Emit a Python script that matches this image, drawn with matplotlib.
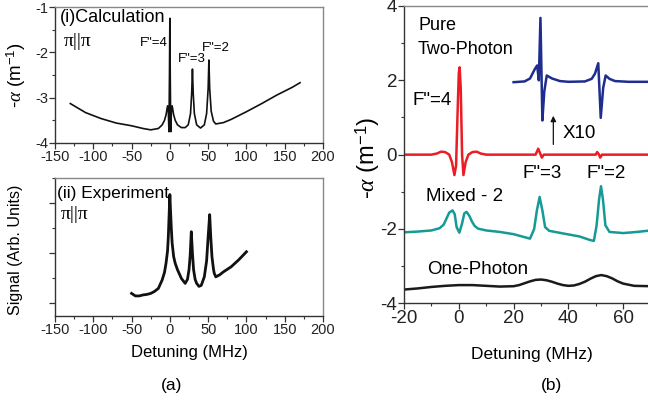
import matplotlib
matplotlib.use('Agg')
import matplotlib.pyplot as plt
from matplotlib.ticker import MultipleLocator

plt.rcParams['font.family'] = ['Liberation Sans', 'DejaVu Sans']
plt.rcParams['axes.unicode_minus'] = False
plt.rcParams['mathtext.fontset'] = 'custom'
plt.rcParams['mathtext.rm'] = 'Liberation Sans'
plt.rcParams['mathtext.it'] = 'Liberation Serif:italic'

# ---------------- data ----------------
# (a)(i) calculation
calc_x = [-130, -110, -90, -70, -50, -35, -25, -15, -10, -7, -5, -3, -2, -1.2, -0.5, 0,
          0.5, 1.2, 2, 3, 5, 7, 10, 15, 20, 24, 27, 28.5, 29.5, 30.5, 32, 35, 40, 45, 48,
          50, 51, 52, 54, 57, 60, 70, 80, 100, 120, 140, 160, 170]
calc_y = [-3.13, -3.33, -3.46, -3.56, -3.62, -3.68, -3.71, -3.68, -3.60, -3.50, -3.38, -3.18, -3.30, -3.75, -2.50, -1.25,
          -2.50, -3.75, -3.30, -3.18, -3.38, -3.50, -3.60, -3.66, -3.66, -3.60, -3.35, -2.90, -2.37, -2.90, -3.35, -3.60, -3.67, -3.60, -3.35,
          -2.80, -2.17, -2.80, -3.30, -3.52, -3.58, -3.55, -3.48, -3.31, -3.13, -2.94, -2.77, -2.67]

# (a)(ii) experiment (arb. units)
exp_x = [-50, -45, -40, -35, -30, -25, -20, -15, -10, -7, -5, -3, -2, -1, 0, 1, 2, 3, 5, 7, 10, 13, 15, 18,
         20, 23, 25, 26.5, 28, 29.5, 31, 33, 35, 38, 41, 45, 48, 50, 52, 53.5, 55, 57, 58, 60,
         65, 70, 75, 80, 85, 90, 95, 100]
exp_y = [0.20, 0.15, 0.15, 0.17, 0.18, 0.20, 0.24, 0.30, 0.47, 0.62, 0.80, 1.05, 1.33, 1.75, 2.17, 1.80, 1.47, 1.20, 0.93, 0.80, 0.67, 0.57, 0.50, 0.44,
         0.40, 0.48, 0.67, 0.95, 1.43, 1.00, 0.67, 0.48, 0.40, 0.34, 0.36, 0.53, 0.85, 1.33, 1.77, 1.30, 0.93, 0.68, 0.60, 0.53,
         0.57, 0.63, 0.68, 0.73, 0.80, 0.87, 0.95, 1.03]

# (b) pure two-photon
pure_x = [-20, -12, -10, -8, -6.5, -5, -3.5, -2.5, -1.6, -1.0, -0.5, 0.0, 0.3, 0.7, 1.2, 1.7, 2.5, 3.5,
          5, 6.5, 8, 10, 20, 28, 29, 29.6, 30.3, 31, 40, 50, 50.5, 51.2, 51.6, 52.3, 60, 70]
pure_y = [0.0, 0.0, 0.0, 0.03, 0.08, 0.07, 0.0, -0.2, -0.55, -0.3, 1.0, 2.2, 2.35, 1.8, 0.0, -0.55, -0.2, 0.0,
          0.07, 0.08, 0.03, 0.0, 0.0, 0.0, 0.16, 0.05, -0.08, 0.0, 0.0, 0.0, 0.07, 0.0, -0.08, 0.0, 0.0, 0.0]

# (b) pure two-photon x10 (offset)
x10_x = [20, 24, 26, 27.8, 28.6, 29.2, 29.8, 30.5, 31.2, 32.1, 34, 36.9, 40, 46, 48.5, 49.7, 50.9,
         51.8, 52.7, 53.6, 55, 57, 62, 70]
x10_y = [1.95, 1.97, 2.05, 2.31, 2.40, 2.00, 3.68, 0.92, 1.70, 2.13, 2.05, 1.98, 1.96, 1.97, 2.04, 2.18, 2.46,
         0.99, 1.80, 2.13, 2.04, 1.98, 1.96, 1.96]

# (b) mixed - 2
mix_x = [-20, -15, -10, -7, -5.5, -4.5, -3.5, -2.3, -1.5, -0.8, 0.2, 1.2, 2.0, 2.8, 3.8, 4.8, 5.8, 7, 10, 15, 20, 24, 26,
         27.5, 28.5, 29.5, 30.5, 31.5, 33, 38, 44, 48, 49.3, 50.3, 51.2, 51.9, 52.6, 53.5, 55, 60, 65, 70]
mix_y = [-2.09, -2.07, -2.04, -1.98, -1.88, -1.72, -1.56, -1.50, -1.60, -1.95, -2.10, -1.85, -1.58, -1.54, -1.64, -1.80, -1.92, -1.99, -2.04, -2.08, -2.14, -2.22, -2.26,
         -2.00, -1.50, -1.14, -1.50, -1.95, -2.05, -2.12, -2.20, -2.30, -2.32, -1.90, -1.20, -0.85, -1.20, -1.90, -2.08, -2.11, -2.08, -2.04]

# (b) one-photon
one_x = [-20, -15, -10, -5, 0, 5, 10, 15, 20, 22, 24, 26, 28, 30, 32, 34, 36, 38, 40, 42, 44, 46, 48, 50, 52, 54, 56, 58, 60, 64, 70]
one_y = [-3.63, -3.60, -3.56, -3.53, -3.51, -3.51, -3.53, -3.55, -3.54, -3.51, -3.46, -3.41, -3.37, -3.36, -3.38, -3.42, -3.47, -3.51, -3.53, -3.52, -3.48, -3.42, -3.34, -3.27, -3.24, -3.27, -3.33, -3.41, -3.47, -3.53, -3.54]

xticks_a = [-150, -100, -50, 0, 50, 100, 150, 200]
yticks_a1 = [-4, -3, -2, -1]
xticks_b = [-20, 0, 20, 40, 60]
yticks_b = [-4, -2, 0, 2, 4]

# ---------------- layout ----------------
W, H = 648, 411
fig = plt.figure(figsize=(W / 100, H / 100), dpi=100)


def rect(l, t, r, b):
    return [l / W, 1 - b / H, (r - l) / W, (b - t) / H]


def ftext(px, py, s, **kw):
    kw.setdefault('va', 'center')
    fig.text(px / W, 1 - py / H, s, **kw)


def style(ax, fs, spine_col='#333333', top_col='#888888'):
    for k in ['left', 'bottom']:
        ax.spines[k].set_color(spine_col)
        ax.spines[k].set_linewidth(1.0)
    for k in ['top', 'right']:
        ax.spines[k].set_color(top_col)
        ax.spines[k].set_linewidth(1.0)
    ax.tick_params(which='both', direction='out', colors='#333333', labelcolor='#222222', labelsize=fs)
    ax.tick_params(which='major', length=4, width=0.9, pad=1)
    ax.tick_params(which='minor', length=2.5, width=0.8)


ax1 = fig.add_axes(rect(55, 7, 323, 143))
ax1.plot(calc_x, calc_y, color='#111111', lw=1.2)
ax1.set_xlim(-150, 200)
ax1.set_ylim(-4, -1)
ax1.set_xticks(xticks_a)
ax1.set_yticks(yticks_a1)
ax1.xaxis.set_minor_locator(MultipleLocator(25))
ax1.yaxis.set_minor_locator(MultipleLocator(0.5))
style(ax1, 10.5)

ax2 = fig.add_axes(rect(55, 178, 323, 316))
ax2.plot(exp_x, exp_y, color='#111111', lw=2.0)
ax2.set_xlim(-150, 200)
ax2.set_ylim(-0.25, 2.5)
ax2.set_xticks(xticks_a)
ax2.set_yticks([0, 1, 2])
ax2.yaxis.set_minor_locator(MultipleLocator(0.5))
ax2.xaxis.set_minor_locator(MultipleLocator(25))
ax2.set_yticklabels([])
style(ax2, 10.5)

ax3 = fig.add_axes(rect(404, 6, 650.6, 303.3))
ax3.plot(one_x, one_y, color='#1a1a1a', lw=1.8)
ax3.plot(mix_x, mix_y, color='#159a96', lw=1.8)
ax3.plot(pure_x, pure_y, color='#ec1c24', lw=1.8)
ax3.plot(x10_x, x10_y, color='#1e2d8e', lw=1.8)
ax3.set_xlim(-20, 70)
ax3.set_ylim(-4, 4)
ax3.set_xticks(xticks_b)
ax3.set_yticks(yticks_b)
ax3.xaxis.set_minor_locator(MultipleLocator(10))
ax3.yaxis.set_minor_locator(MultipleLocator(1))
style(ax3, 13.5)
ax3.spines['right'].set_visible(False)
ax3.annotate('', xy=(34.5, 1.12), xytext=(34.5, 0.2),
             arrowprops=dict(arrowstyle='-|>', color='#111111', lw=0.9, mutation_scale=8))

# ---------------- texts ----------------
# panel (a)
ftext(60, 17, '(i)Calculation', fontsize=13, ha='left')
ftext(64, 42, 'π||π', fontsize=14, ha='left', family=['Liberation Serif', 'DejaVu Serif'])
ftext(168, 43, 'F"=4', fontsize=9.5, ha='right')
ftext(178, 59, 'F"=3', fontsize=9.5, ha='left')
ftext(202, 48, 'F"=2', fontsize=9.5, ha='left')
ftext(16, 75, r'-$\alpha$ (m$^{-1}$)', fontsize=13.5, ha='center', rotation=90)

ftext(57, 193, '(ii) Experiment', fontsize=12.5, ha='left')
ftext(61, 214, 'π||π', fontsize=14, ha='left', family=['Liberation Serif', 'DejaVu Serif'])
ftext(16, 250, 'Signal (Arb. Units)', fontsize=11.5, ha='center', rotation=90)
ftext(189, 353, 'Detuning (MHz)', fontsize=12, ha='center')
ftext(172, 385, '(a)', fontsize=12.5, ha='center')

# panel (b)
ftext(418, 26, 'Pure', fontsize=13, ha='left')
ftext(418, 49, 'Two-Photon', fontsize=13, ha='left')
ftext(412, 100, 'F"=4', fontsize=13.5, ha='left')
ftext(563, 133, 'X10', fontsize=13.5, ha='left')
ftext(523, 174, 'F"=3', fontsize=13.5, ha='left')
ftext(587, 174, 'F"=2', fontsize=13.5, ha='left')
ftext(426, 196, 'Mixed - 2', fontsize=13.5, ha='left')
ftext(427, 269, 'One-Photon', fontsize=13.5, ha='left')
ftext(368, 158, r'-$\alpha$ (m$^{-1}$)', fontsize=17, ha='center', rotation=90)
ftext(532, 354, 'Detuning (MHz)', fontsize=12.5, ha='center')
ftext(552, 385, '(b)', fontsize=12.5, ha='center')

fig.savefig('out.png', dpi=100)
